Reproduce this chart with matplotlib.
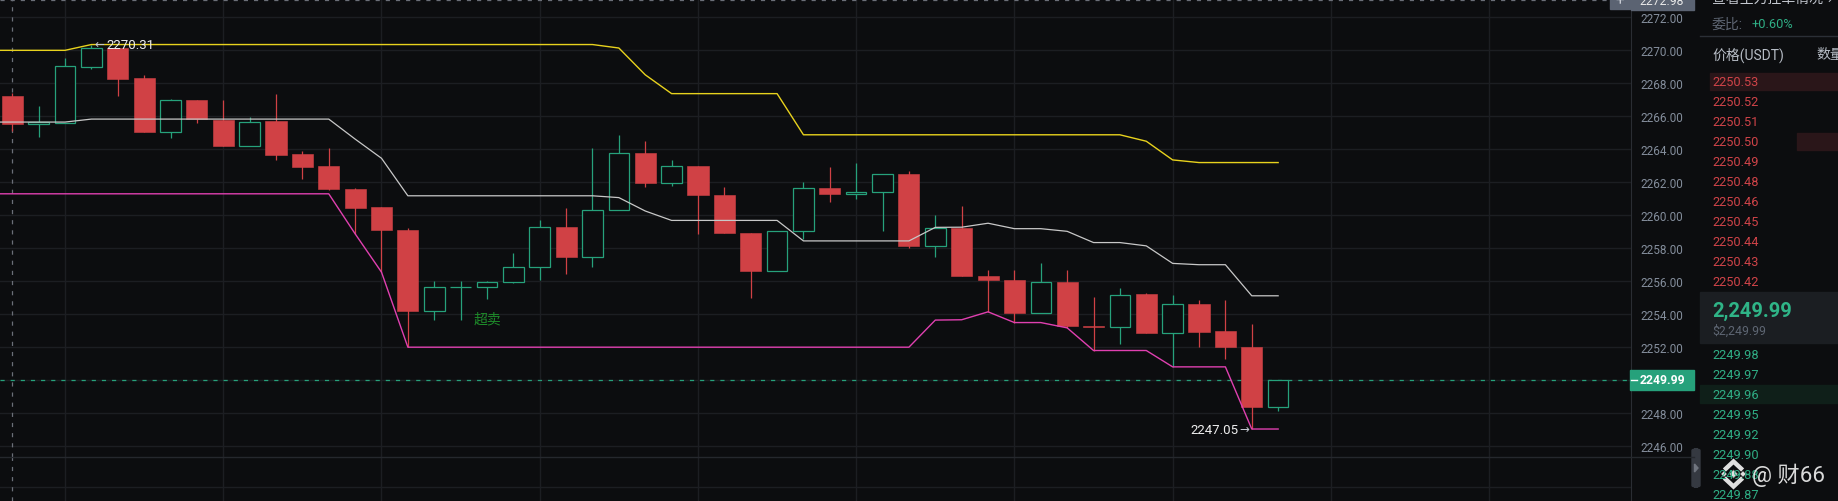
import matplotlib
matplotlib.use('Agg')
import matplotlib.pyplot as plt
from matplotlib.patches import Rectangle, Polygon, FancyBboxPatch
from matplotlib.lines import Line2D

plt.rcParams['font.family'] = ['Roboto', 'Noto Sans CJK SC', 'DejaVu Sans']
plt.rcParams['lines.scale_dashes'] = False

# candle data (one entry per bar)
opens = [2267.22, 2265.50, 2265.58, 2268.98, 2270.08, 2268.30, 2265.02, 2266.98, 2265.74, 2264.20,
         2265.66, 2263.68, 2262.94, 2261.58, 2260.47, 2259.10, 2254.18, 2255.63, 2255.63, 2255.94,
         2256.84, 2259.26, 2257.45, 2260.31, 2263.76, 2261.92, 2262.95, 2261.20, 2258.92, 2256.60,
         2259.02, 2261.62, 2261.26, 2261.38, 2262.49, 2258.15, 2259.22, 2256.33, 2256.09, 2254.08,
         2255.97, 2253.29, 2253.23, 2255.19, 2252.87, 2254.64, 2252.95, 2252.04, 2248.37]
highs = [2267.40, 2266.60, 2269.48, 2270.31, 2270.10, 2268.48, 2267.04, 2266.98, 2266.96, 2265.90,
         2267.34, 2263.84, 2264.08, 2261.64, 2260.47, 2259.20, 2256.00, 2256.00, 2256.00, 2257.69,
         2259.70, 2260.41, 2264.04, 2264.85, 2264.46, 2263.33, 2262.95, 2261.70, 2258.92, 2259.02,
         2261.98, 2262.89, 2263.17, 2262.47, 2262.65, 2260.00, 2260.53, 2256.68, 2256.68, 2257.12,
         2256.68, 2255.06, 2255.61, 2255.25, 2255.15, 2254.88, 2254.88, 2253.43, 2249.99]
lows = [2265.08, 2264.70, 2265.55, 2268.80, 2267.22, 2265.02, 2264.68, 2265.56, 2264.18, 2264.20,
        2263.32, 2262.20, 2261.54, 2258.86, 2256.54, 2252.00, 2253.64, 2253.66, 2254.93, 2255.90,
        2256.04, 2256.40, 2256.88, 2260.31, 2261.72, 2261.78, 2258.86, 2258.88, 2255.00, 2256.60,
        2258.52, 2260.77, 2260.94, 2259.00, 2258.01, 2257.43, 2256.28, 2254.14, 2253.49, 2254.08,
        2253.17, 2251.80, 2252.20, 2252.85, 2250.81, 2252.00, 2251.27, 2247.05, 2248.13]
closes = [2265.50, 2265.62, 2269.00, 2270.08, 2268.24, 2265.02, 2266.96, 2265.78, 2264.18, 2265.64,
          2263.64, 2262.92, 2261.56, 2260.45, 2259.06, 2254.16, 2255.63, 2255.67, 2255.94, 2256.84,
          2259.26, 2257.43, 2260.29, 2263.74, 2261.92, 2262.95, 2261.18, 2258.88, 2256.58, 2259.02,
          2261.62, 2261.24, 2261.40, 2262.47, 2258.15, 2259.20, 2256.29, 2256.05, 2254.06, 2255.95,
          2253.27, 2253.21, 2255.17, 2252.85, 2254.62, 2252.91, 2252.00, 2248.37, 2249.99]

# channel lines (upper / middle / lower), one value per bar
upper = [2269.96, 2269.96, 2269.96] + [2270.31] * 20 + [2270.10, 2268.48] + [2267.34] * 5 \
        + [2264.85] * 13 + [2264.46, 2263.33, 2263.17, 2263.17, 2263.17, 2263.17]
middle = [2265.62, 2265.62, 2265.62] + [2265.80] * 10 + [2264.59, 2263.43] + [2261.16] * 8 \
         + [2261.05, 2260.24] + [2259.67] * 5 + [2258.43] * 5 \
         + [2259.25, 2259.26, 2259.50, 2259.17, 2259.17, 2259.01, 2258.33, 2258.33, 2258.13,
            2257.07, 2256.99, 2256.99, 2255.11, 2255.11]
lower = [2261.28] * 13 + [2258.86, 2256.54] + [2252.00] * 20 \
        + [2253.64, 2253.66, 2254.14, 2253.49, 2253.49, 2253.17, 2251.80, 2251.80, 2251.80,
           2250.81, 2250.81, 2250.81, 2247.05, 2247.05]

last_price = 2249.99
cross_price = 2272.98
price_ticks = [2246, 2248, 2250, 2252, 2254, 2256, 2258, 2260, 2262, 2264, 2266, 2268, 2270, 2272]

asks = ['2250.53', '2250.52', '2250.51', '2250.50', '2250.49', '2250.48',
        '2250.46', '2250.45', '2250.44', '2250.43', '2250.42']
bids = ['2249.98', '2249.97', '2249.96', '2249.95', '2249.92', '2249.90', '2249.88', '2249.87']

BG = '#0c0d0f'
GRID = '#1c1e22'
RED = '#d04145'
GREEN = '#26a17b'

W, H = 1838, 502


def fx(x):
    return x / W


def fy(y):
    return 1 - y / H


fig = plt.figure(figsize=(W / 100, H / 100), dpi=100, facecolor=BG)

# main price pane
ax = fig.add_axes([0, fy(458), fx(1631), 458 / H], facecolor=BG)
ax.set_xlim(-0.466, 61.38)
ax.set_ylim(2245.357, 2273.065)

n = len(opens)
xs = list(range(n))

for sp in ['top', 'left', 'bottom']:
    ax.spines[sp].set_visible(False)
ax.spines['right'].set_color('#2a2d33')
ax.yaxis.tick_right()
ax.set_yticks(price_ticks)
ax.set_yticklabels(['' if t == 2250 else '%.2f' % t for t in price_ticks])
ax.tick_params(axis='y', length=0, pad=7, labelsize=8.5, labelcolor='#848e9c')
ax.set_xticks([2, 8, 14, 20, 26, 32, 38, 44, 50, 56])
ax.tick_params(axis='x', length=0, labelbottom=False)
ax.grid(True, color=GRID, lw=1.0)
ax.set_axisbelow(True)

# wicks
for i in xs:
    col = GREEN if closes[i] >= opens[i] else RED
    ax.vlines(i, lows[i], highs[i], color=col, lw=0.9, zorder=2)

# bodies
for i in xs:
    o, c = opens[i], closes[i]
    bottom = min(o, c)
    height = max(abs(c - o), 0.02)
    if c >= o:
        ax.bar(i, height, bottom=bottom, width=0.78, facecolor=BG, edgecolor=GREEN,
               linewidth=0.9, zorder=3)
    else:
        ax.bar(i, height, bottom=bottom, width=0.8, facecolor=RED, edgecolor=RED,
               linewidth=0.4, zorder=3)

# channel lines, starting from the bar before the first visible one
lx = [-1] + xs
ax.plot(lx, [upper[0]] + upper, color='#e8d21d', lw=1.0, zorder=4)
ax.plot(lx, [middle[0]] + middle, color='#c8c8c8', lw=0.9, zorder=4)
ax.plot(lx, [lower[0]] + lower, color='#e040b0', lw=1.0, zorder=4)

# last price and crosshair
ax.axhline(last_price, color=GREEN, lw=0.9, dashes=(3, 4.3), zorder=1)
ax.axhline(cross_price, color='#6b6f78', lw=0.9, dashes=(3, 4.3), zorder=1)
ax.axvline(0, color='#6b6f78', lw=0.9, dashes=(3, 4.3), zorder=1)

# high / low marks
hi_i = highs.index(max(highs))
lo_i = lows.index(min(lows))
ax.annotate('←', xy=(hi_i, highs[hi_i]), xytext=(2.5, 0.5), textcoords='offset points',
            ha='left', va='center', fontsize=8.5, color='#c4c8d0', family='DejaVu Sans', zorder=6)
ax.annotate('%.2f' % highs[hi_i], xy=(hi_i, highs[hi_i]), xytext=(11, 0), textcoords='offset points',
            ha='left', va='center', fontsize=9.5, color='#eeeeee', zorder=6)
ax.annotate('%.2f' % lows[lo_i], xy=(lo_i, lows[lo_i]), xytext=(-9.5, 0), textcoords='offset points',
            ha='right', va='center', fontsize=9.5, color='#eeeeee', zorder=6)
ax.annotate('→', xy=(lo_i, lows[lo_i]), xytext=(-1.5, 0.5), textcoords='offset points',
            ha='right', va='center', fontsize=8.5, color='#c4c8d0', family='DejaVu Sans', zorder=6)

ax.text(18, 2253.77, '超卖', ha='center', va='center', fontsize=10, color='#1e8c2a', zorder=6)

# lower pane
ax2 = fig.add_axes([0, 0, fx(1631), 44 / H], facecolor=BG)
ax2.set_xlim(ax.get_xlim())
ax2.set_ylim(0, 1)
for sp in ['top', 'left', 'bottom']:
    ax2.spines[sp].set_visible(False)
ax2.spines['right'].set_color('#2a2d33')
ax2.set_xticks([2, 8, 14, 20, 26, 32, 38, 44, 50, 56])
ax2.set_yticks([0.318])
ax2.tick_params(length=0, labelbottom=False, labelleft=False)
ax2.grid(True, color=GRID, lw=1.0)
ax2.axvline(0, color='#6b6f78', lw=0.9, dashes=(3, 4.3))
fig.add_artist(Line2D([0, fx(1694)], [fy(458.3), fy(458.3)], color='#25282d', lw=1.0))

# price axis boxes
fig.add_artist(Rectangle((fx(1630), fy(391)), fx(64), 20 / H, color=GREEN))
fig.add_artist(Line2D([fx(1631), fx(1637)], [fy(381), fy(381)], color='white', lw=1.0))
fig.text(fx(1640), fy(381), '%.2f' % last_price, ha='left', va='center', fontsize=8.8,
         fontweight='bold', color='white')
fig.add_artist(Rectangle((fx(1631), fy(11)), fx(63), 22 / H, color='#5b6372'))
fig.text(fx(1640), fy(1.4), '%.2f' % cross_price, ha='left', va='center', fontsize=8.8,
         color='#e8e8e8')
fig.add_artist(Rectangle((fx(1610), fy(10)), fx(20), 20 / H, color='#5b6372'))
fig.text(fx(1620), fy(1), '+', ha='center', va='center', fontsize=11, color='#c8ccd4')

# scroll handle
fig.add_artist(FancyBboxPatch((fx(1692), fy(488)), fx(8), 38 / H,
                              boxstyle='round,pad=0,rounding_size=0.003', color='#353941'))
fig.add_artist(Polygon([[fx(1694.5), fy(465)], [fx(1694.5), fy(473)], [fx(1698), fy(469)]],
                       closed=True, color='#70757f'))

# order book panel
fig.text(fx(1712), fy(-1), '查看主力挂单情况 ↗', ha='left', va='center', fontsize=10, color='#c4c8d0')
fig.text(fx(1712), fy(25), '委比:', ha='left', va='center', fontsize=10, color='#5e6673')
fig.text(fx(1752), fy(25), '+0.60%', ha='left', va='center', fontsize=9.2, color='#2fae85')
fig.add_artist(Line2D([fx(1700), 1], [fy(37), fy(37)], color='#2b2f36', lw=1.0))
fig.text(fx(1712), fy(55), '价格(USDT)', ha='left', va='center', fontsize=10, color='#b7bdc6')
fig.text(fx(1816), fy(55), '数量', ha='left', va='center', fontsize=10, color='#b7bdc6')

fig.add_artist(Rectangle((fx(1710), fy(91)), fx(128), 17 / H, color='#2a1619'))
fig.add_artist(Rectangle((fx(1797), fy(151)), fx(41), 17 / H, color='#2a1619'))
for k, p in enumerate(asks):
    fig.text(fx(1712), fy(83 + 20 * k), p, ha='left', va='center', fontsize=9.2, color='#cf4348')

fig.add_artist(Rectangle((fx(1700), fy(344.3)), fx(138), 51 / H, color='#1b1e22'))
fig.text(fx(1712), fy(311.5), '2,249.99', ha='left', va='center', fontsize=14.5,
         fontweight='bold', color='#2fb487')
fig.text(fx(1712), fy(331), '$2,249.99', ha='left', va='center', fontsize=8.8, color='#5e6673')

fig.add_artist(Rectangle((fx(1700), fy(404)), fx(138), 18 / H, color='#0f1f19'))
for k, p in enumerate(bids):
    fig.text(fx(1712), fy(355.7 + 20 * k), p, ha='left', va='center', fontsize=9.2, color='#2fae85')

# watermark (logo + handle)
cx, cy = 1733.5, 475
WM = '#ececec'


def diamond(x, y, r):
    return Polygon([[fx(x), fy(y - r)], [fx(x + r), fy(y)], [fx(x), fy(y + r)], [fx(x - r), fy(y)]],
                   closed=True, facecolor=WM, edgecolor='#444444', lw=0.4, alpha=0.95)


for dx, r in [(0, 4.2), (-9.5, 3.0), (9.5, 3.0)]:
    fig.add_artist(diamond(cx + dx, cy, r))
for s in (-1, 1):
    fig.add_artist(Line2D([fx(cx - 7.5), fx(cx), fx(cx + 7.5)],
                          [fy(cy + s * 5.5), fy(cy + s * 12.5), fy(cy + s * 5.5)],
                          color=WM, lw=3.2, solid_joinstyle='miter', alpha=0.95))
fig.text(fx(1752), fy(475), '@ 财66', ha='left', va='center', fontsize=16, color=WM, alpha=0.92)

fig.savefig('out.png', dpi=100, facecolor=BG)
